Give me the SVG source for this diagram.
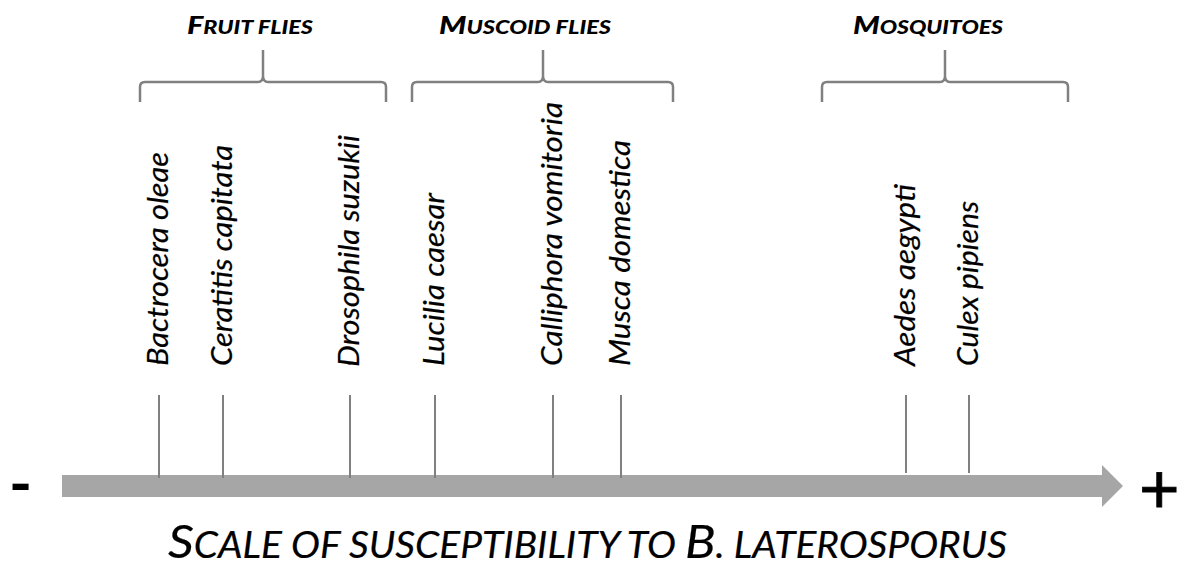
<svg xmlns="http://www.w3.org/2000/svg" width="1185" height="574" viewBox="0 0 1185 574">
<style>
.sp{font-family:Lato,"Open Sans",sans-serif;font-style:italic;font-size:28px;fill:#000;stroke:#000;stroke-width:0.2}
.hd{font-family:Lato,"Open Sans",sans-serif;font-style:italic;font-weight:900;fill:#000}
.br{fill:none;stroke:#808080;stroke-width:2.5}
.tk{stroke:#808080;stroke-width:2}
.ttl{font-family:Lato,"Open Sans",sans-serif;font-style:italic;fill:#000;stroke:#000;stroke-width:0.2}
</style>
<rect width="1185" height="574" fill="#fff"/>
<g id="axis">
<rect x="62" y="475" width="1041" height="22" fill="#a6a6a6"/>
<polygon points="1102,465 1123,486 1102,507" fill="#a6a6a6"/>
<text x="9" y="505" font-family="Lato,sans-serif" font-weight="bold" font-size="62" fill="#000">-</text>
<text x="1139" y="513" font-family="Lato,sans-serif" font-size="70" fill="#000" stroke="#000" stroke-width="0.8">+</text>
</g>
<g id="connectors">
<line class="tk" x1="159" y1="395" x2="159" y2="478"/>
<line class="tk" x1="223" y1="395" x2="223" y2="478"/>
<line class="tk" x1="350" y1="395" x2="350" y2="478"/>
<line class="tk" x1="435" y1="395" x2="435" y2="478"/>
<line class="tk" x1="553" y1="395" x2="553" y2="478"/>
<line class="tk" x1="621" y1="395" x2="621" y2="478"/>
<line class="tk" x1="906" y1="395" x2="906" y2="473"/>
<line class="tk" x1="969" y1="395" x2="969" y2="473"/>
</g>
<g id="fruit-flies">
<path class="br" d="M140,102 V87 Q140,82 145,82 H258 Q263,82 263,76 V50 M263,76 Q263,82 268,82 H381 Q386,82 386,87 V102"/>
<text class="hd" x="187" y="34" textLength="126" lengthAdjust="spacingAndGlyphs"><tspan font-size="25">F</tspan><tspan font-size="19">RUIT FLIES</tspan></text>
</g>
<g id="muscoid-flies">
<path class="br" d="M412,102 V87 Q412,82 417,82 H538 Q543,82 543,76 V50 M543,76 Q543,82 548,82 H668 Q673,82 673,87 V102"/>
<text class="hd" x="439" y="34" textLength="172" lengthAdjust="spacingAndGlyphs"><tspan font-size="25">M</tspan><tspan font-size="19">USCOID FLIES</tspan></text>
</g>
<g id="mosquitoes">
<path class="br" d="M822,102 V87 Q822,82 827,82 H940 Q945,82 945,76 V50 M945,76 Q945,82 950,82 H1063 Q1068,82 1068,87 V102"/>
<text class="hd" x="853" y="34" textLength="150" lengthAdjust="spacingAndGlyphs"><tspan font-size="25">M</tspan><tspan font-size="19">OSQUITOES</tspan></text>
</g>
<g id="bactrocera-oleae"><text class="sp" transform="translate(168,366) rotate(-90)" textLength="214" lengthAdjust="spacingAndGlyphs">Bactrocera oleae</text></g>
<g id="ceratitis-capitata"><text class="sp" transform="translate(232,366) rotate(-90)" textLength="221" lengthAdjust="spacingAndGlyphs">Ceratitis capitata</text></g>
<g id="drosophila-suzukii"><text class="sp" transform="translate(359,367) rotate(-90)" textLength="232" lengthAdjust="spacingAndGlyphs">Drosophila suzukii</text></g>
<g id="lucilia-caesar"><text class="sp" transform="translate(444,366) rotate(-90)" textLength="173" lengthAdjust="spacingAndGlyphs">Lucilia caesar</text></g>
<g id="calliphora-vomitoria"><text class="sp" transform="translate(562,366) rotate(-90)" textLength="264" lengthAdjust="spacingAndGlyphs">Calliphora vomitoria</text></g>
<g id="musca-domestica"><text class="sp" transform="translate(630,366) rotate(-90)" textLength="226" lengthAdjust="spacingAndGlyphs">Musca domestica</text></g>
<g id="aedes-aegypti"><text class="sp" transform="translate(915,366) rotate(-90)" textLength="182" lengthAdjust="spacingAndGlyphs">Aedes aegypti</text></g>
<g id="culex-pipiens"><text class="sp" transform="translate(978,366) rotate(-90)" textLength="165" lengthAdjust="spacingAndGlyphs">Culex pipiens</text></g>
<g id="title">
<text class="ttl" x="168" y="558" textLength="839" lengthAdjust="spacingAndGlyphs"><tspan font-size="47">S</tspan><tspan font-size="36">CALE OF SUSCEPTIBILITY TO </tspan><tspan font-size="47">B</tspan><tspan font-size="36">. LATEROSPORUS</tspan></text>
</g>
</svg>
